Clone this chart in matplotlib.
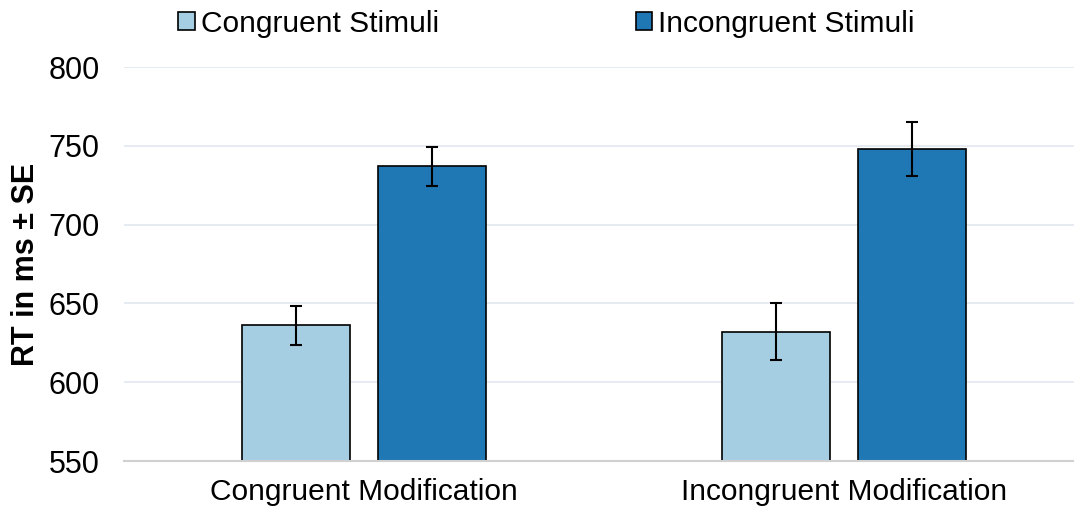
import matplotlib.pyplot as plt
import numpy as np

plt.rcParams["font.family"] = ["Liberation Sans", "DejaVu Sans"]

# Data
conditions = ["Congruent Modification", "Incongruent Modification"]
series = ["Congruent Stimuli", "Incongruent Stimuli"]
rt_congruent = [636, 632]
rt_incongruent = [737, 748]
se_congruent = [12.5, 18]
se_incongruent = [12.5, 17]

colors = ["#a6cee3", "#1f78b4"]

fig = plt.figure(figsize=(10.74, 5.12), dpi=100)
ax = fig.add_axes([0.1155, 0.0996, 0.8845, 0.7695])

x = np.arange(len(conditions))
width = 0.225
offset = 0.1417

err_kw = dict(ecolor="black", elinewidth=1.5, capsize=4.5, capthick=1.5)
ax.bar(x - offset, rt_congruent, width, yerr=se_congruent, color=colors[0],
       edgecolor="black", linewidth=1.2, label=series[0], error_kw=err_kw, zorder=3)
ax.bar(x + offset, rt_incongruent, width, yerr=se_incongruent, color=colors[1],
       edgecolor="black", linewidth=1.2, label=series[1], error_kw=err_kw, zorder=3)

ax.set_ylim(550, 800)
ax.set_xlim(-0.5, 1.479)
ax.set_yticks([550, 600, 650, 700, 750, 800])
ax.set_xticks(x)
ax.set_xticklabels(conditions, fontsize=21.5)
ax.tick_params(axis="y", labelsize=22, length=0, pad=36)
ax.tick_params(axis="x", length=0, pad=12)
for lab in ax.get_yticklabels():
    lab.set_horizontalalignment("center")

ax.grid(True, axis="y", color="#e4e9f0", linewidth=1.3, zorder=0)
for s in ["top", "right", "left"]:
    ax.spines[s].set_visible(False)
ax.spines["bottom"].set_color("#d0d0d0")
ax.spines["bottom"].set_linewidth(1.5)
ax.spines["bottom"].set_zorder(4)

ax.set_ylabel("RT in ms ± SE", fontsize=22, fontweight="bold")
ax.yaxis.set_label_coords(-0.087, 0.5)

fig.legend(loc="upper center", bbox_to_anchor=(0.509, 1.033), ncol=2, frameon=False,
           fontsize=21.5, handlelength=0.55, handleheight=0.55, handletextpad=0.2,
           columnspacing=6.6)

plt.savefig("out.png", dpi=100)
